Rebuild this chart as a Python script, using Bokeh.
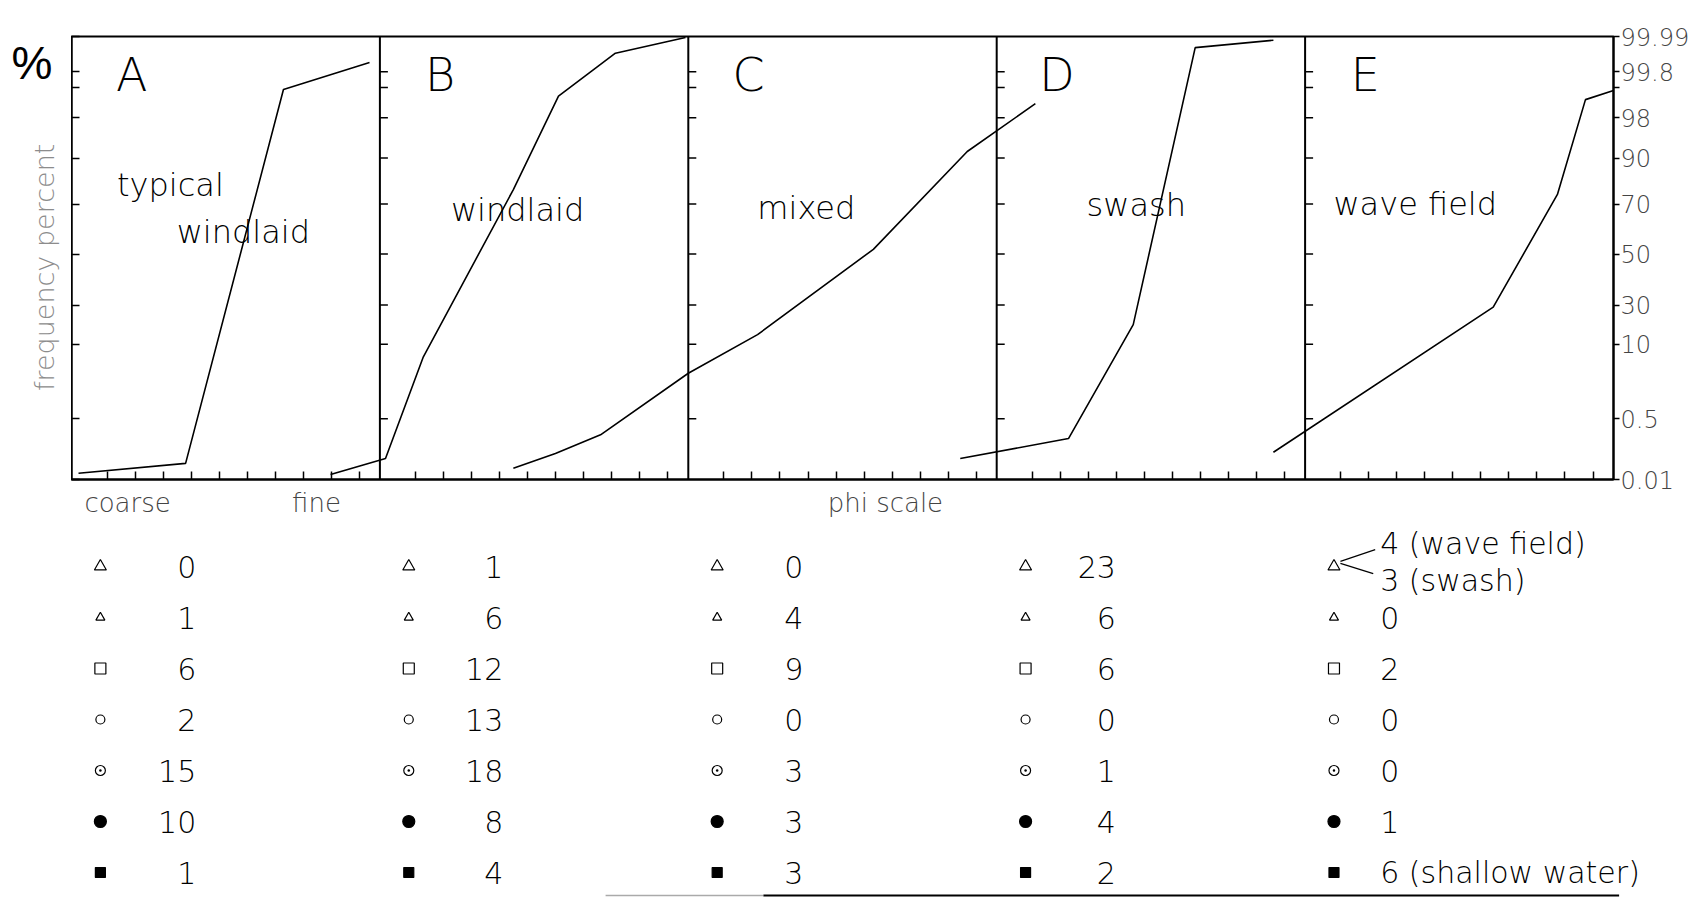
import math
import numpy as np
from bokeh.plotting import figure
from bokeh.models import (Range1d, FixedTicker, LinearAxis, Span, LabelSet, ColumnDataSource)
from bokeh.layouts import column, row
from bokeh.core.properties import value
from bokeh.embed import file_html
from bokeh.resources import INLINE

# ---------------- data ----------------
PANELS = ["A", "B", "C", "D", "E"]
PANEL_SPAN = 11  # phi-tick spacings per panel on the shared phi scale

# probability (cumulative frequency percent) scale as printed
Y_TICK_PCT = [0.01, 0.5, 10, 30, 50, 70, 90, 98, 99.5, 99.8, 99.99]
Y_TICK_LABELS = ["0.01", "0.5", "10", "30", "50", "70", "90", "98", "", "99.8", "99.99"]
Y_TICK_POS = [0, 62, 138, 178, 230, 281, 328, 369, 400, 416, 452]

X_LABELS = ["coarse", "fine", "phi scale"]
X_LABEL_AT = [2.0, 8.74, 29.03]
Y_TITLE = "frequency percent"
UNIT_MARK = "%"

# cumulative curves: x along the shared phi scale (0..55), y in percent
A_X = [0.25, 4.07, 7.56, 10.63]
A_Y = [0.06, 0.14, 99.4, 99.85]
B_X = [9.24, 11.20, 12.55, 15.76, 17.37, 19.40, 21.90]
B_Y = [0.05, 0.18, 8.4, 76.3, 99.07, 99.9, 99.985]
C_X = [15.76, 17.26, 18.87, 22.00, 24.47, 28.60, 31.95, 34.38]
C_Y = [0.10, 0.22, 0.37, 6.3, 14.9, 51.9, 91.3, 98.7]
D_X = [31.70, 35.56, 37.87, 40.08, 42.87]
D_Y = [0.18, 0.34, 20.0, 99.93, 99.97]
E_X = [42.87, 50.71, 53.00, 54.00, 55.00]
E_Y = [0.23, 28.9, 74.2, 98.9, 99.35]

# table of grain counts per particle type (rows) and sample type (columns)
ROW_SYMBOLS = ["triangle", "triangle", "square", "circle", "circle_dot", "circle", "square"]
ROW_FILLED = [False, False, False, False, False, True, True]
A_COUNTS = [0, 1, 6, 2, 15, 10, 1]
B_COUNTS = [1, 6, 12, 13, 18, 8, 4]
C_COUNTS = [0, 4, 9, 0, 3, 3, 3]
D_COUNTS = [23, 6, 6, 0, 1, 4, 2]
E_COUNTS = [None, 0, 2, 0, 0, 1, 6]
E_FIRST_ROW = [(4, "wave  field"), (3, "swash")]
E_LAST_NOTE = "shallow water"

# ---------------- styling / layout ----------------
STENCIL = "DejaVu Sans Light"
W, H1, H2 = 1693, 520, 377
BL, BR, BT = 71, 80, 36
FRAME_W = W - BL - BR
PX_PER_UNIT = FRAME_W / (5 * PANEL_SPAN)
TICK_OFF = 0.27
ROW_PX = 51.0

def ypos(pct):
    return np.interp(pct, Y_TICK_PCT, Y_TICK_POS)

# left strip holding the unit mark and the vertical axis title
s = figure(width=BL, height=H1, x_range=Range1d(0, BL), y_range=Range1d(H1, 0),
           x_axis_location=None, y_axis_location=None, output_backend="svg", toolbar_location=None,
           min_border_left=0, min_border_right=0, min_border_top=0, min_border_bottom=0)
s.grid.visible = False
s.outline_line_color = None
s.text(x=[11], y=[31], text=[UNIT_MARK], text_font=value("Liberation Sans"), text_font_size="46px",
       text_align="left", text_baseline="middle", text_color="black")
s.text(x=[44], y=[271], text=[Y_TITLE], angle=math.pi / 2, text_font=value(STENCIL),
       text_font_size="27px", text_align="center", text_baseline="middle", text_color="#8c8c8c")

xr = Range1d(0, 5 * PANEL_SPAN)
p = figure(width=W - BL, height=H1, x_range=xr, y_range=Range1d(Y_TICK_POS[0], Y_TICK_POS[-1]),
           output_backend="svg", toolbar_location=None,
           min_border_left=0, min_border_right=BR, min_border_top=BT, min_border_bottom=32)
p.grid.visible = False
p.outline_line_color = "black"
p.outline_line_width = 2

# bottom axis: unlabeled phi ticks (minor) + the three printed words (major, no tick mark)
x_ticks = [k * PANEL_SPAN + j + TICK_OFF for k in range(5) for j in range(1, 11)]
xa = p.xaxis[0]
xa.ticker = FixedTicker(ticks=X_LABEL_AT, minor_ticks=x_ticks)
xa.major_label_overrides = {float(x): s_ for x, s_ in zip(X_LABEL_AT, X_LABELS)}
xa.major_tick_line_color = None
xa.minor_tick_in = 8
xa.minor_tick_out = 0
xa.minor_tick_line_width = 1.5
xa.axis_line_width = 2
xa.major_label_standoff = 2
xa.major_label_text_font = STENCIL
xa.major_label_text_font_size = "26px"
xa.major_label_text_color = "#444444"

# left axis: unlabeled inner ticks
ya = p.yaxis[0]
ya.ticker = FixedTicker(ticks=[], minor_ticks=Y_TICK_POS)
ya.minor_tick_in = 8
ya.minor_tick_out = 0
ya.minor_tick_line_width = 1.5
ya.major_label_standoff = 0
ya.axis_line_width = 2

# right axis: probability labels
lab_pos = [pp for pp, l in zip(Y_TICK_POS, Y_TICK_LABELS) if l]
unl_pos = [pp for pp, l in zip(Y_TICK_POS, Y_TICK_LABELS) if not l]
ra = LinearAxis(ticker=FixedTicker(ticks=lab_pos, minor_ticks=unl_pos),
                major_label_overrides={pp: l for pp, l in zip(Y_TICK_POS, Y_TICK_LABELS) if l},
                major_tick_in=0, major_tick_out=6, minor_tick_in=0, minor_tick_out=6,
                axis_line_width=2, major_tick_line_width=1.5, minor_tick_line_width=1.5,
                major_label_standoff=1,
                major_label_text_font=STENCIL, major_label_text_font_size="24px",
                major_label_text_color="#444444")
p.add_layout(ra, "right")

for k in range(1, 5):
    p.add_layout(Span(location=k * PANEL_SPAN, dimension="height", line_color="black", line_width=2))
bx = [k * PANEL_SPAN for k in range(1, 5) for _ in Y_TICK_POS[1:-1]]
by = [y for k in range(1, 5) for y in Y_TICK_POS[1:-1]]
p.segment(x0=bx, y0=by, x1=[b + 8 / PX_PER_UNIT for b in bx], y1=by, line_color="black", line_width=1.5)

for xs, ys in [(A_X, A_Y), (B_X, B_Y), (C_X, C_Y), (D_X, D_Y), (E_X, E_Y)]:
    p.line(xs, ypos(ys), line_color="black", line_width=1.6)

p.text(x=[k * PANEL_SPAN + 2.15 for k in range(5)], y=[413] * 5, text=PANELS,
       text_font=value(STENCIL), text_font_size="46px", text_align="center", text_baseline="middle")

title_x = [3.53, 6.13, 11 + 4.91, 22 + 4.21, 33 + 4.98, 44 + 4.11]
title_y = [300, 253, 275, 277, 280, 281]
title_t = ["typical", "windlaid", "windlaid", "mixed", "swash", "wave  field"]
p.text(x=title_x, y=title_y, text=title_t, text_font=value(STENCIL), text_font_size="32px",
       text_align="center", text_baseline="middle")

# ---------------- table ----------------
y_top = -46 / ROW_PX
y_bot = y_top + H2 / ROW_PX
TBR = 6
t = figure(width=W, height=H2, x_range=Range1d(0, 5 * PANEL_SPAN + (BR - TBR) / PX_PER_UNIT),
           y_range=Range1d(y_bot, y_top),
           x_axis_location=None, y_axis_location=None,
           min_border_left=BL, min_border_right=TBR, min_border_top=0, min_border_bottom=0,
           output_backend="svg", toolbar_location=None)
t.grid.visible = False
t.outline_line_color = None

sizes = [12, 9, 11, 9, 10, 12, 10]
sx, sy, sm, sf, ss = [], [], [], [], []
for k in range(5):
    for r in range(7):
        sx.append(k * PANEL_SPAN + 1.03)
        sy.append(r)
        sm.append(ROW_SYMBOLS[r])
        sf.append("black" if ROW_FILLED[r] else "white")
        ss.append(sizes[r])
t.scatter(x="x", y="y", marker="m", fill_color="f", size="s", line_color="black", line_width=1.2,
          source=ColumnDataSource(dict(x=sx, y=sy, m=sm, f=sf, s=ss)))

value_right = [4.45, 4.4, 4.1, 4.25]
vx, vy, vt = [], [], []
for k, counts in enumerate([A_COUNTS, B_COUNTS, C_COUNTS, D_COUNTS]):
    for r, c in enumerate(counts):
        vx.append(k * PANEL_SPAN + value_right[k])
        vy.append(r)
        vt.append(str(c))
t.add_layout(LabelSet(x="x", y="y", text="t", source=ColumnDataSource(dict(x=vx, y=vy, t=vt)),
                      text_font=value(STENCIL), text_font_size=value("30px"), text_color="black",
                      text_align="right", text_baseline="middle"))

ex = 4 * PANEL_SPAN + 2.68
e_txt, e_y = [], []
for r, c in enumerate(E_COUNTS):
    if c is None:
        continue
    st = str(c)
    if r == 6:
        st += " (" + E_LAST_NOTE + ")"
    e_txt.append(st)
    e_y.append(r)
e_txt += [f"{n} ({lab})" for n, lab in E_FIRST_ROW]
e_y += [-0.45, 0.27]
t.add_layout(LabelSet(x="x", y="y", text="t",
                      source=ColumnDataSource(dict(x=[ex] * len(e_txt), y=e_y, t=e_txt)),
                      text_font=value(STENCIL), text_font_size=value("30px"), text_color="black",
                      text_align="left", text_baseline="middle"))
t.segment(x0=[44 + 1.26, 44 + 1.26], y0=[-0.10, -0.06], x1=[44 + 2.50, 44 + 2.43], y1=[-0.33, 0.14],
          line_color="black", line_width=1.2)
t.segment(x0=[19.05], y0=[6.45], x1=[24.68], y1=[6.45], line_color="#aaaaaa", line_width=1.5)
t.segment(x0=[24.68], y0=[6.45], x1=[55.2], y1=[6.45], line_color="black", line_width=2)

layout = column(row(s, p), row(t))
open("out.html", "w").write(file_html(layout, INLINE))
